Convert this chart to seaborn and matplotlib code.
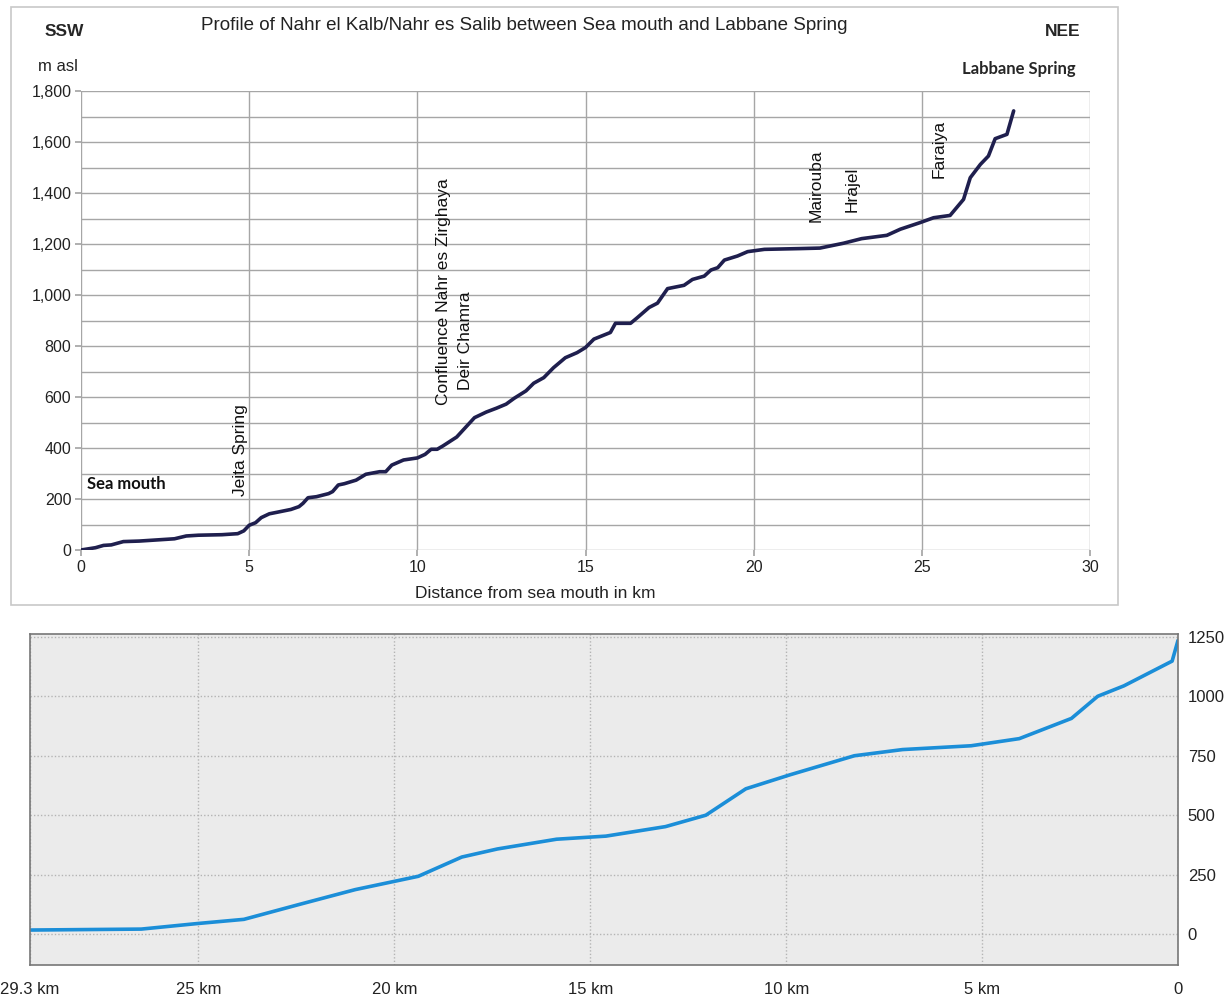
import matplotlib
matplotlib.use("Agg")
import matplotlib.pyplot as plt
import matplotlib.ticker as mticker
from matplotlib.patches import Rectangle
import numpy as np
import pandas as pd
import seaborn as sns

# top profile: distance from sea mouth (km) / elevation (m asl)
profile_km = [0.0, 0.43, 0.67, 0.9, 1.26, 1.73, 2.55, 2.78, 3.13, 3.49, 4.19, 4.66, 4.84, 5.0,
              5.19, 5.36, 5.6, 5.83, 6.24, 6.48, 6.6, 6.75, 7.0, 7.36, 7.48, 7.65, 7.83, 8.18,
              8.47, 8.88, 9.06, 9.24, 9.59, 10.0, 10.23, 10.41, 10.59, 10.76, 11.17, 11.47,
              11.7, 12.05, 12.35, 12.64, 12.88, 13.23, 13.46, 13.76, 14.05, 14.4, 14.75, 15.0,
              15.25, 15.74, 15.89, 16.34, 16.54, 16.89, 17.14, 17.44, 17.93, 18.18, 18.53,
              18.73, 18.93, 19.13, 19.52, 19.82, 20.32, 21.38, 21.97, 22.67, 23.21, 23.96,
              24.36, 24.95, 25.35, 25.84, 26.24, 26.44, 26.74, 26.98, 27.18, 27.53, 27.73]
profile_m = [0, 9, 18, 20, 33, 35, 42, 44, 55, 58, 60, 64, 75, 97,
             107, 127, 142, 148, 159, 170, 183, 205, 209, 221, 229, 255, 260, 274,
             297, 307, 307, 333, 353, 361, 375, 395, 395, 408, 443, 486,
             519, 541, 556, 572, 595, 624, 654, 676, 715, 754, 774, 794,
             827, 853, 889, 889, 911, 951, 968, 1025, 1038, 1061, 1074,
             1098, 1107, 1137, 1153, 1170, 1179, 1182, 1184, 1203, 1221, 1234,
             1258, 1284, 1303, 1312, 1375, 1460, 1512, 1545, 1613, 1630, 1722]

# place names along the profile (km, base elevation)
place_names = ["Jeita Spring", "Confluence Nahr es Zirghaya", "Deir Chamra",
               "Mairouba", "Hrajel", "Faraiya"]
place_km = [4.73, 10.77, 11.43, 21.85, 22.92, 25.5]
place_m = [212, 569, 627, 1286, 1325, 1459]

# bottom profile: remaining distance (km) / elevation (m)
remain_km = [29.3, 26.46, 25.05, 23.84, 22.42, 21.0, 19.39, 18.28, 17.37, 15.86, 14.6,
             13.08, 12.05, 11.03, 9.9, 8.26, 7.03, 5.28, 4.05, 2.72, 2.05, 1.38, 0.15, 0.0]
remain_m = [17, 21, 44, 62, 125, 187, 243, 324, 358, 399, 412,
            452, 500, 611, 670, 750, 776, 792, 822, 907, 1000, 1044, 1148, 1235]
remain_ticks = [29.3, 25, 20, 15, 10, 5, 0]
remain_labels = ["29.3 km", "25 km", "20 km", "15 km", "10 km", "5 km", "0"]

top_df = pd.DataFrame({"km": profile_km, "m": profile_m})
bot_df = pd.DataFrame({"km": remain_km, "m": remain_m})

sns.set_theme(style="white")
plt.rcParams["font.family"] = ["Liberation Sans", "DejaVu Sans"]

W, H = 1227, 1000
fig = plt.figure(figsize=(12.27, 10), dpi=100)

# frame around the upper chart
fig.patches.append(Rectangle((11 / W, 1 - 605 / H), (1118 - 11) / W, (605 - 7) / H,
                             transform=fig.transFigure, fill=False, edgecolor="#c8c8c8", lw=1.2))

# ---- upper chart
ax = fig.add_axes([81 / W, 1 - 550 / H, (1090 - 81) / W, (550 - 91) / H])
sns.lineplot(data=top_df, x="km", y="m", ax=ax, color="#1f1f4e", lw=2.6, sort=False)
ax.set_xlim(0, 30)
ax.set_ylim(0, 1800)
ax.xaxis.set_major_locator(mticker.MultipleLocator(5))
ax.yaxis.set_major_locator(mticker.MultipleLocator(200))
ax.yaxis.set_minor_locator(mticker.MultipleLocator(100))
ax.yaxis.set_major_formatter(mticker.StrMethodFormatter("{x:,.0f}"))
ax.grid(True, which="both", axis="y", color="#a6a6a6", lw=1)
ax.grid(True, which="major", axis="x", color="#a6a6a6", lw=1)
for s in ax.spines.values():
    s.set_visible(False)
ax.tick_params(axis="both", which="major", length=4, color="#a6a6a6", labelsize=11.5,
               labelcolor="#222222", pad=3, bottom=True, left=True)
ax.tick_params(axis="y", which="minor", length=0)
ax.set_xlabel("")
ax.set_ylabel("")

for name, xk, ym in zip(place_names, place_km, place_m):
    ax.text(xk, ym, name, rotation=90, ha="center", va="bottom", fontsize=12.5, color="#111111")
ax.text(1.34, 259, "Sea mouth", ha="center", va="center", fontsize=12, fontweight="bold",
        family=["Lato", "DejaVu Sans"], color="#111111")

fig.text(524 / W, 1 - 25 / H, "Profile of Nahr el Kalb/Nahr es Salib between Sea mouth and Labbane Spring",
         ha="center", va="center", fontsize=13.5, color="#222222")
fig.text(64 / W, 1 - 32 / H, "SSW", ha="center", va="center", fontsize=12.5, fontweight="bold")
fig.text(1063 / W, 1 - 32 / H, "NEE", ha="center", va="center", fontsize=12.5, fontweight="bold")
fig.text(58 / W, 1 - 66 / H, "m asl", ha="center", va="center", fontsize=12, color="#222222")
fig.text(1019 / W, 1 - 69 / H, "Labbane Spring", ha="center", va="center", fontsize=12,
         fontweight="bold", family=["Lato", "DejaVu Sans"])
fig.text(535 / W, 1 - 594 / H, "Distance from sea mouth in km", ha="center", va="center",
         fontsize=12.5, color="#222222")

# ---- lower chart
bx = fig.add_axes([30 / W, 1 - 965 / H, (1178 - 30) / W, (965 - 634) / H])
bx.set_facecolor("#ebebeb")
sns.lineplot(data=bot_df, x="km", y="m", ax=bx, color="#1b8ed8", lw=2.6, sort=False)
bx.set_xlim(29.3, 0)
bx.set_ylim(-130, 1262)
bx.set_xticks(remain_ticks)
bx.set_xticklabels(remain_labels)
bx.set_yticks([0, 250, 500, 750, 1000, 1250])
bx.yaxis.tick_right()
bx.grid(True, color="#b4b4b4", lw=1, ls=(0, (1, 1.5)))
for s in bx.spines.values():
    s.set_color("#777777")
    s.set_linewidth(1.2)
bx.tick_params(axis="both", length=0, labelsize=12, labelcolor="#222222")
bx.tick_params(axis="x", pad=12)
bx.tick_params(axis="y", pad=7)
bx.set_xlabel("")
bx.set_ylabel("")

fig.savefig("out.png", dpi=100)
